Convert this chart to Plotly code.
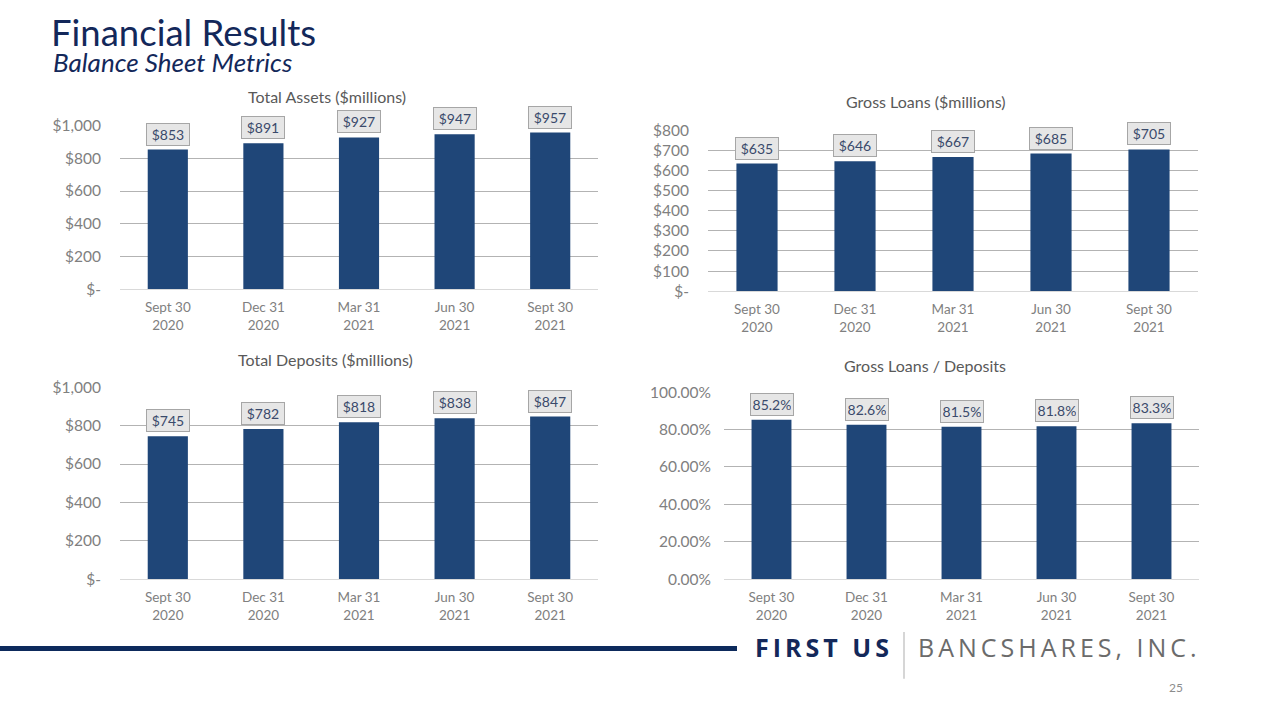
import plotly.graph_objects as go

# ---------------- data ----------------
categories = ["Sept 30<br>2020", "Dec 31<br>2020", "Mar 31<br>2021", "Jun 30<br>2021", "Sept 30<br>2021"]
total_assets = [853, 891, 927, 947, 957]
gross_loans = [635, 646, 667, 685, 705]
total_deposits = [745, 782, 818, 838, 847]
loans_to_deposits = [0.852, 0.826, 0.815, 0.818, 0.833]

assets_ticks = [0, 200, 400, 600, 800, 1000]
assets_ticktext = ["$-", "$200", "$400", "$600", "$800", "$1,000"]
loans_ticks = [0, 100, 200, 300, 400, 500, 600, 700, 800]
loans_ticktext = ["$-", "$100", "$200", "$300", "$400", "$500", "$600", "$700", "$800"]
ratio_ticks = [0, 0.2, 0.4, 0.6, 0.8, 1.0]

chart_titles = ["Total Assets ($millions)", "Gross Loans ($millions)",
                "Total Deposits ($millions)", "Gross Loans / Deposits"]

# ---------------- style ----------------
W, H = 1280, 720
FONT = "Lato, 'Noto Sans', sans-serif"
BAR = "#1f4678"
NAVY = "#13285a"
GRID = "#b3b3b3"
TICK = "#808080"
LABEL_TXT = "#3a4a6b"


def px_x(p):
    return p / W


def px_y(p):
    return 1 - p / H


fig = go.Figure()

panels = [
    # values, axis index, x domain px, y domain px (bottom, top), range, tickvals, ticktext, label fmt, y standoff
    (total_assets, 1, (120, 598), (287, 119), [0, 1002], assets_ticks, assets_ticktext, lambda v: f"${v:,.0f}", 18),
    (gross_loans, 2, (708, 1198), (289, 124), [0, 801.6], loans_ticks, loans_ticktext, lambda v: f"${v:,.0f}", 18),
    (total_deposits, 3, (120, 598), (584, 387), [0, 1002], assets_ticks, assets_ticktext, lambda v: f"${v:,.0f}", 18),
    (loans_to_deposits, 4, (724, 1199), (584, 392), [0, 1.002], ratio_ticks, None, lambda v: f"{v*100:.1f}%", 12),
]

annotations = []
for vals, i, xd, yd, rng, tv, tt, fmt, so in panels:
    sx = "" if i == 1 else str(i)
    fig.add_trace(go.Bar(
        x=categories, y=vals, xaxis="x" + sx, yaxis="y" + sx,
        marker=dict(color=BAR, line=dict(width=0)), width=0.42,
        hoverinfo="skip", showlegend=False,
    ))
    xa = dict(domain=[px_x(xd[0]), px_x(xd[1])], anchor="y" + sx,
              showgrid=False, showline=True, linecolor="#d9d9d9", linewidth=1,
              ticks="", tickfont=dict(family=FONT, size=13.5, color=TICK),
              ticklabelstandoff=6, fixedrange=True)
    ya = dict(domain=[px_y(yd[0]), px_y(yd[1])], anchor="x" + sx, range=rng,
              tickvals=tv, showgrid=True, gridcolor=GRID, gridwidth=1,
              zeroline=False, showline=False, ticks="",
              tickfont=dict(family=FONT, size=15.5, color=TICK),
              ticklabelstandoff=so, fixedrange=True)
    if tt is not None:
        ya["ticktext"] = tt
    else:
        ya["tickformat"] = ".2%"
    fig.update_layout(**{"xaxis" + sx: xa, "yaxis" + sx: ya})
    for c, v in zip(categories, vals):
        annotations.append(dict(
            x=c, y=v, xref="x" + sx, yref="y" + sx, text=fmt(v),
            showarrow=False, yanchor="bottom", yshift=4, width=38,
            font=dict(family=FONT, size=14, color=LABEL_TXT),
            bgcolor="#e6e6e6", bordercolor="#a6a6a6", borderwidth=1, borderpad=2,
        ))

# chart titles
title_pos = [(327, 90), (925, 95), (325, 359), (925, 365)]
for t, (cx, cy) in zip(chart_titles, title_pos):
    annotations.append(dict(x=px_x(cx), y=px_y(cy), xref="paper", yref="paper",
                            text=t, showarrow=False, xanchor="center", yanchor="middle",
                            font=dict(family=FONT, size=16, color="#595959")))

# slide title
annotations.append(dict(x=px_x(49), y=px_y(24), xref="paper", yref="paper",
                        text="Financial Results", showarrow=False, xanchor="left", yanchor="middle",
                        font=dict(family=FONT, size=36.5, color=NAVY)))
annotations.append(dict(x=px_x(51), y=px_y(54), xref="paper", yref="paper",
                        text="<i>Balance Sheet Metrics</i>", showarrow=False, xanchor="left", yanchor="middle",
                        font=dict(family=FONT, size=26, color=NAVY)))

# footer logo text
annotations.append(dict(x=px_x(753), y=px_y(653), xref="paper", yref="paper",
                        text="<b><span style='letter-spacing:4px'>FIRST US</span></b>", showarrow=False,
                        xanchor="left", yanchor="middle",
                        font=dict(family="'Open Sans', sans-serif", size=25, color=NAVY)))
annotations.append(dict(x=px_x(916), y=px_y(653), xref="paper", yref="paper",
                        text="<span style='letter-spacing:4px'>BANCSHARES, INC.</span>", showarrow=False,
                        xanchor="left", yanchor="middle",
                        font=dict(family="'Open Sans', sans-serif", size=25, color="#6b6b6b")))
annotations.append(dict(x=px_x(1176), y=px_y(695), xref="paper", yref="paper",
                        text="25", showarrow=False, xanchor="center", yanchor="middle",
                        font=dict(family=FONT, size=12, color="#8c8c8c")))

shapes = [
    dict(type="line", xref="paper", yref="paper", x0=0, x1=px_x(737), y0=px_y(655), y1=px_y(655),
         line=dict(color="#0d2a5c", width=5)),
    dict(type="line", xref="paper", yref="paper", x0=px_x(904), x1=px_x(904), y0=px_y(638), y1=px_y(686),
         line=dict(color="#c8c8c8", width=1.5)),
]

fig.update_layout(
    width=W, height=H, margin=dict(l=0, r=0, t=0, b=0),
    paper_bgcolor="white", plot_bgcolor="white",
    annotations=annotations, shapes=shapes,
    font=dict(family=FONT),
)

fig.write_html("out.html", config={"displayModeBar": False},
               post_script="document.body.style.margin='0';document.body.style.overflow='hidden';")
